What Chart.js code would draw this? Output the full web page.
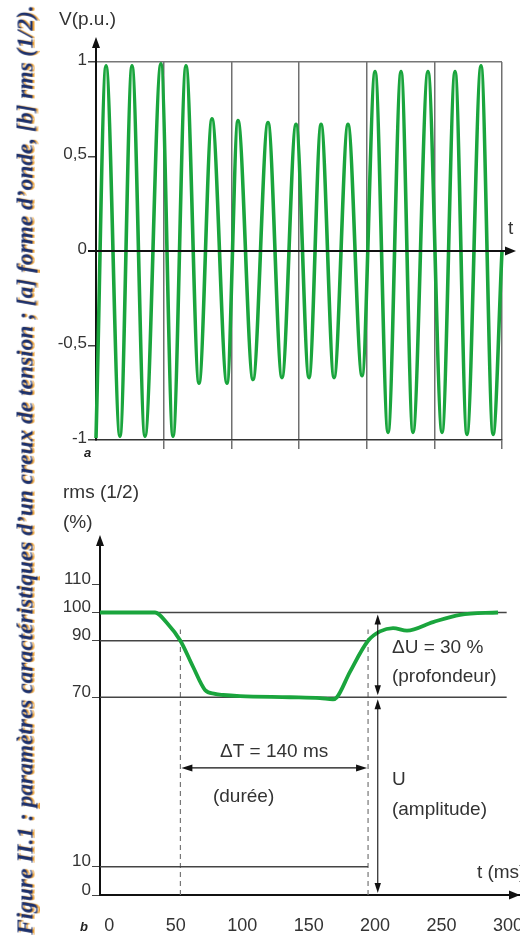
<!DOCTYPE html>
<html>
<head>
<meta charset="utf-8">
<script src="https://cdn.jsdelivr.net/npm/chart.js@4.4.1/dist/chart.umd.min.js"></script>
<style>
  body { margin: 0; background: #fff; width: 520px; height: 938px; overflow: hidden; position: relative;
         font-family: 'Liberation Sans', Arial, sans-serif; color: #333; }
  canvas { position: absolute; left: 0; }
  #top { top: 0; }
  #bot { top: 470px; }
  .lbl { position: absolute; font-size: 19px; line-height: 19px; white-space: nowrap; }
  .tag { position: absolute; font: italic bold 13px 'Liberation Sans', Arial, sans-serif; color: #222; }
  #caption { position: absolute; left: 25px; top: 470px; transform: translate(-50%, -50%) rotate(-90deg);
             white-space: nowrap; font: italic bold 21px 'Liberation Serif', 'Times New Roman', serif;
             color: #1b2f6b; text-shadow: 0 1.5px 0 #e9a13b; }
</style>
</head>
<body>
<canvas id="top" width="520" height="470"></canvas>
<canvas id="bot" width="520" height="468"></canvas>
<div class="lbl" style="left:59px; top:9px">V(p.u.)</div>
<div class="lbl" style="left:508px; top:218px">t</div>
<div class="tag" style="left:84px; top:445px">a</div>
<div class="lbl" style="left:63px; top:482px">rms (1/2)</div>
<div class="lbl" style="left:63px; top:512px">(%)</div>
<div class="tag" style="left:80px; top:919px">b</div>
<div id="caption">Figure II.1 : paramètres caractéristiques d’un creux de tension ; [a] forme d’onde, [b] rms (1/2).</div>

<script>
// [a] waveform: peaks and troughs (time in ms, voltage in p.u.)
const waveTime = [0, 7.4, 17.7, 26.6, 36.2, 48.0, 56.9, 66.5, 76.1, 85.7, 96.8, 104.9, 116.0, 127.1,
  137.4, 147.8, 157.4, 166.3, 175.9, 186.2, 196.6, 206.2, 215.8, 225.4, 234.2, 245.3, 255.7,
  265.3, 274.1, 284.5, 293.4, 300];
const waveVolt = [-0.99, 0.98, -0.98, 0.98, -0.98, 0.99, -0.98, 0.98, -0.70, 0.70, -0.70, 0.69,
  -0.68, 0.68, -0.67, 0.67, -0.67, 0.67, -0.67, 0.67, -0.66, 0.95, -0.96, 0.95, -0.96, 0.95,
  -0.96, 0.95, -0.97, 0.98, -0.97, 0];
const topXTicks = [0, 50, 100, 150, 200, 250, 300];
const topYTicks = [-1, -0.5, 0, 0.5, 1];
const topYLabels = ['-1', '-0,5', '0', '0,5', '1'];

// [b] rms (1/2) in %
const rmsTime = [-7, 34.4, 43.4, 53.5, 63, 72, 79.5, 85.7, 98.3, 136, 158.5, 168.3, 171.3, 181.1,
  194.7, 203.7, 213.5, 224, 243.6, 263.9, 292.5];
const rmsPct = [100, 100, 96.3, 90, 80.8, 72.6, 71.2, 70.8, 70.4, 70, 69.7, 69.3, 70, 79, 90,
  93.3, 94.5, 93.6, 96.6, 99.2, 100];
const botXTicks = [0, 50, 100, 150, 200, 250, 300];
const botYTicks = [0, 10, 70, 90, 100, 110];
const botYLabels = ['0', '10', '70', '90', '100', '110'];
const levelPct = [100, 90, 70, 10];
const levelEnd = [299, 194.7, 299, 194.7];
const dashTime = [53.5, 194.7];
const dashTop = 94;
const tStart = -7;
const dipTime = 202;
const dipLevels = [100, 70, 0];
const durLevel = 45;

const GREEN = '#1aa53d';
const FONT = "'Liberation Sans', Arial, sans-serif";
Chart.defaults.font.family = FONT;

function arrowHead(ctx, x, y, dx, dy, len, half) {
  ctx.beginPath();
  ctx.moveTo(x, y);
  ctx.lineTo(x - dx * len - dy * half, y - dy * len + dx * half);
  ctx.lineTo(x - dx * len + dy * half, y - dy * len - dx * half);
  ctx.closePath();
  ctx.fill();
}

function line(ctx, x1, y1, x2, y2) {
  ctx.beginPath();
  ctx.moveTo(x1, y1);
  ctx.lineTo(x2, y2);
  ctx.stroke();
}

// keep the plot area where the figure has it: no extra room for edge labels
function noEdgePad(s) {
  s.paddingLeft = 0;
  s.paddingRight = 0;
  s.paddingTop = 0;
  s.paddingBottom = 0;
}

const topDeco = {
  id: 'topDeco',
  afterDraw(chart) {
    const { ctx, chartArea: ca, scales: { y } } = chart;
    ctx.save();
    ctx.strokeStyle = '#111';
    ctx.fillStyle = '#111';
    ctx.lineWidth = 2;
    line(ctx, ca.left, ca.top, ca.left, ca.top - 16);
    arrowHead(ctx, ca.left, ca.top - 25, 0, -1, 11, 4);
    const y0 = y.getPixelForValue(0);
    line(ctx, ca.left - 8, y0, ca.right + 5, y0);
    arrowHead(ctx, ca.right + 14, y0, 1, 0, 11, 4.5);
    ctx.restore();
  }
};

const notes = [
  { text: 'ΔT = 140 ms', t: 124, v: 50.6, align: 'center' },
  { text: '(durée)', t: 78, v: 34.7, align: 'left' },
  { text: 'ΔU = 30 %', t: 212.7, v: 87.4, align: 'left' },
  { text: '(profondeur)', t: 212.7, v: 77.2, align: 'left' },
  { text: 'U', t: 212.7, v: 40.7, align: 'left' },
  { text: '(amplitude)', t: 212.7, v: 30.1, align: 'left' },
  { text: 't (ms)', t: 276.6, v: 7.8, align: 'left' }
];

const botDeco = {
  id: 'botDeco',
  afterDraw(chart) {
    const { ctx, chartArea: ca, scales: { x, y } } = chart;
    ctx.save();
    ctx.strokeStyle = '#111';
    ctx.fillStyle = '#111';
    ctx.lineWidth = 2;
    // axis arrows
    line(ctx, ca.left, ca.top, ca.left, ca.top - 12);
    arrowHead(ctx, ca.left, ca.top - 21, 0, -1, 11, 4);
    line(ctx, ca.right, ca.bottom, chart.width, ca.bottom);
    arrowHead(ctx, ca.right + 12, ca.bottom, 1, 0, 11, 4.5);

    // depth and amplitude double arrows
    ctx.lineWidth = 1.1;
    const ax = x.getPixelForValue(dipTime);
    for (let i = 0; i < dipLevels.length - 1; i++) {
      const y1 = y.getPixelForValue(dipLevels[i]) + 2;
      const y2 = y.getPixelForValue(dipLevels[i + 1]) - 2;
      line(ctx, ax, y1 + 6, ax, y2 - 6);
      arrowHead(ctx, ax, y1, 0, -1, 10, 3.2);
      arrowHead(ctx, ax, y2, 0, 1, 10, 3.2);
    }
    // duration arrow
    const ay = y.getPixelForValue(durLevel);
    const x1 = x.getPixelForValue(dashTime[0]) + 1;
    const x2 = x.getPixelForValue(dashTime[1]) - 1;
    line(ctx, x1 + 6, ay, x2 - 6, ay);
    arrowHead(ctx, x1, ay, -1, 0, 11, 3.5);
    arrowHead(ctx, x2, ay, 1, 0, 11, 3.5);

    ctx.font = '19px ' + FONT;
    ctx.fillStyle = '#333';
    ctx.textBaseline = 'middle';
    notes.forEach(n => {
      ctx.textAlign = n.align;
      ctx.fillText(n.text, x.getPixelForValue(n.t), y.getPixelForValue(n.v));
    });
    ctx.restore();
  }
};

new Chart(document.getElementById('top'), {
  type: 'line',
  data: {
    datasets: [{
      data: waveTime.map((t, i) => ({ x: t, y: waveVolt[i] })),
      borderColor: GREEN,
      borderWidth: 3.6,
      pointRadius: 0,
      cubicInterpolationMode: 'monotone',
      clip: false
    }]
  },
  options: {
    responsive: false,
    animation: false,
    events: [],
    layout: { padding: { top: 62, right: 18, left: 0, bottom: 0 } },
    plugins: { legend: { display: false }, tooltip: { enabled: false } },
    scales: {
      x: {
        type: 'linear', min: 0, max: 300, z: 1,
        afterBuildTicks: s => { s.ticks = topXTicks.map(v => ({ value: v })); },
        afterFit: s => { s.height = 30; noEdgePad(s); },
        ticks: { display: false },
        grid: {
          color: c => c.tick && c.tick.value === 0 ? 'rgba(0,0,0,0)' : '#707070',
          tickColor: c => c.tick && c.tick.value === 0 ? 'rgba(0,0,0,0)' : '#707070',
          lineWidth: 1.5, tickLength: 9
        },
        border: { color: '#333', width: 1.5 }
      },
      y: {
        min: -1, max: 1, z: 1,
        afterBuildTicks: s => { s.ticks = topYTicks.map(v => ({ value: v })); },
        afterFit: s => { s.width = 96; noEdgePad(s); },
        ticks: {
          callback: v => topYLabels[topYTicks.indexOf(v)],
          padding: 1, labelOffset: -2, color: '#333', font: { size: 17 }
        },
        grid: {
          color: c => c.tick && c.tick.value === 1 ? '#777' : 'rgba(0,0,0,0)',
          tickColor: '#444', lineWidth: 1.5, tickLength: 8
        },
        border: { color: '#111', width: 2 }
      }
    }
  },
  plugins: [topDeco]
});

new Chart(document.getElementById('bot'), {
  type: 'line',
  data: {
    datasets: [
      {
        data: rmsTime.map((t, i) => ({ x: t, y: rmsPct[i] })),
        borderColor: GREEN, borderWidth: 3.8, pointRadius: 0,
        cubicInterpolationMode: 'monotone', order: 0, clip: false
      },
      ...levelPct.map((p, i) => ({
        data: [{ x: tStart, y: p }, { x: levelEnd[i], y: p }],
        borderColor: '#444', borderWidth: 1.3, pointRadius: 0, order: 1
      })),
      ...dashTime.map(t => ({
        data: [{ x: t, y: 0 }, { x: t, y: dashTop }],
        borderColor: '#777', borderWidth: 1.2, borderDash: [5, 4], pointRadius: 0, order: 1
      }))
    ]
  },
  options: {
    responsive: false,
    animation: false,
    events: [],
    layout: { padding: { top: 86, right: 12, left: 0, bottom: 0 } },
    plugins: { legend: { display: false }, tooltip: { enabled: false } },
    scales: {
      x: {
        type: 'linear', min: tStart, max: 300,
        afterBuildTicks: s => { s.ticks = botXTicks.map(v => ({ value: v })); },
        afterFit: s => { s.height = 43; noEdgePad(s); },
        ticks: { padding: 20, color: '#333', font: { size: 18 } },
        grid: { drawOnChartArea: false, drawTicks: false },
        border: { color: '#111', width: 2 }
      },
      y: {
        min: 0, max: 120,
        afterBuildTicks: s => { s.ticks = botYTicks.map(v => ({ value: v })); },
        afterFit: s => { s.width = 100; noEdgePad(s); },
        ticks: {
          callback: v => botYLabels[botYTicks.indexOf(v)],
          padding: 1, labelOffset: -5, color: '#333', font: { size: 17 }
        },
        grid: { drawOnChartArea: false, tickLength: 8, tickColor: '#444' },
        border: { color: '#111', width: 2 }
      }
    }
  },
  plugins: [botDeco]
});

// stretch the vertical caption to the figure height
const cap = document.getElementById('caption');
cap.style.fontSize = (21 * 930 / cap.offsetWidth) + 'px';
</script>
</body>
</html>
